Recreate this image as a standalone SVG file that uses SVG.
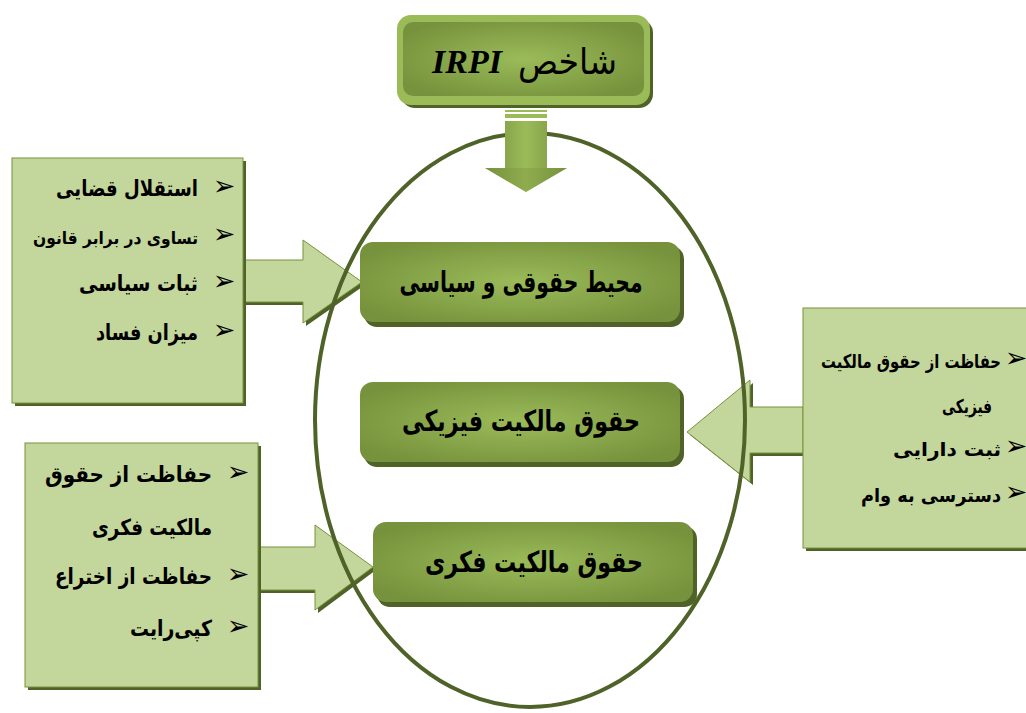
<svg xmlns="http://www.w3.org/2000/svg" width="1026" height="713" viewBox="0 0 1026 713">
<defs>
<radialGradient id="gBox" cx="50%" cy="50%" r="60%">
<stop offset="0" stop-color="#9bbb59"/>
<stop offset="1" stop-color="#76923c"/>
</radialGradient>
<linearGradient id="gArrow" x1="0" y1="0" x2="1" y2="0">
<stop offset="0" stop-color="#76923c"/>
<stop offset="0.5" stop-color="#9bbb59"/>
<stop offset="1" stop-color="#76923c"/>
</linearGradient>
</defs>
<style>
.lbox{fill:#c3d69b;stroke:#77933c;stroke-width:1}
.shadow{fill:#4f6228}
.gbox{fill:url(#gBox)}
.ar{font-family:"DejaVu Sans",sans-serif;font-weight:bold;fill:#000}
.t{font-size:22px;text-anchor:end}
.r{font-size:19px}
.c{font-size:29px;text-anchor:middle}
.b{font-family:"DejaVu Sans",sans-serif;font-size:27px;fill:#000;text-anchor:middle}
</style>
<rect width="1026" height="713" fill="#fff"/>

<g id="connectors">
<path class="shadow" d="M246,263 H306 V243 L365,285 L306,326 V305 H246 Z"/>
<path class="lbox" d="M243,260 H303 V240 L362,282 L303,323 V302 H243 Z"/>
<path class="shadow" d="M261,550 H318 V528 L376,570 L318,613 V593 H261 Z"/>
<path class="lbox" d="M258,547 H315 V525 L373,567 L315,610 V590 H258 Z"/>
<path class="shadow" d="M806,410 H753 V383 L690,435 L753,485 V456 H806 Z"/>
<path class="lbox" d="M803,407 H750 V380 L687,432 L750,482 V453 H803 Z"/>
</g>

<ellipse cx="530" cy="420" rx="215" ry="287" fill="none" stroke="#4f6228" stroke-width="4"/>

<g id="arrow-down">
<rect x="505" y="110" width="42" height="2" fill="#9bbb59"/>
<rect x="505" y="114" width="42" height="4" fill="#9bbb59"/>
<path d="M505,121 H547 V168 H567 L526,192 L485,168 H505 Z" fill="url(#gArrow)"/>
<path d="M485,168 H567 L526,192 Z" fill="#77933c" opacity="0.35"/>
</g>

<g id="node-irpi">
<rect x="401" y="19" width="252" height="89" rx="14" class="shadow"/>
<rect x="397" y="15" width="253" height="90" rx="14" fill="#9bbb59"/>
<rect x="403" y="22" width="241" height="74" rx="10" class="gbox"/>
<text x="467" y="73" font-family="Liberation Serif,serif" font-weight="bold" font-style="italic" font-size="34" text-anchor="middle">IRPI</text>
<text x="617" y="74" font-family="DejaVu Sans,sans-serif" font-size="36" text-anchor="end" textLength="99" lengthAdjust="spacingAndGlyphs">شاخص</text>
</g>

<g id="node-left-top">
<rect x="15" y="161" width="231" height="245" class="shadow"/>
<rect x="12" y="158" width="231" height="245" class="lbox"/>
<text class="b" x="224" y="195">➢</text>
<text class="ar t" x="198" y="196" textLength="142" lengthAdjust="spacingAndGlyphs">استقلال قضایی</text>
<text class="b" x="224" y="243">➢</text>
<text class="ar t" x="198" y="244" style="font-size:17px" textLength="165" lengthAdjust="spacingAndGlyphs">تساوی در برابر قانون</text>
<text class="b" x="224" y="290">➢</text>
<text class="ar t" x="198" y="291" textLength="119" lengthAdjust="spacingAndGlyphs">ثبات سیاسی</text>
<text class="b" x="224" y="339">➢</text>
<text class="ar t" x="198" y="340" textLength="102" lengthAdjust="spacingAndGlyphs">میزان فساد</text>
</g>

<g id="node-left-bottom">
<rect x="28" y="446" width="233" height="244" class="shadow"/>
<rect x="25" y="443" width="233" height="244" class="lbox"/>
<text class="b" x="238" y="481">➢</text>
<text class="ar t" x="212" y="482" textLength="167" lengthAdjust="spacingAndGlyphs">حفاظت  از  حقوق</text>
<text class="ar t" x="212" y="535" textLength="120" lengthAdjust="spacingAndGlyphs">مالکیت فکری</text>
<text class="b" x="238" y="583">➢</text>
<text class="ar t" x="212" y="584" textLength="157" lengthAdjust="spacingAndGlyphs">حفاظت از اختراع</text>
<text class="b" x="238" y="635">➢</text>
<text class="ar t" x="212" y="636" textLength="82" lengthAdjust="spacingAndGlyphs">کپی‌رایت</text>
</g>

<g id="node-right">
<rect x="806" y="311" width="230" height="240" class="shadow"/>
<rect x="803" y="308" width="230" height="240" class="lbox"/>
<text class="b" x="1016" y="367">➢</text>
<text class="ar t r" x="1001" y="368" textLength="180" lengthAdjust="spacingAndGlyphs">حفاظت از حقوق مالکیت</text>
<text class="ar t r" x="992" y="413" textLength="50" lengthAdjust="spacingAndGlyphs">فیزیکی</text>
<text class="b" x="1016" y="455">➢</text>
<text class="ar t r" x="1001" y="456" textLength="108" lengthAdjust="spacingAndGlyphs">ثبت دارایی</text>
<text class="b" x="1016" y="501">➢</text>
<text class="ar t r" x="1001" y="502" textLength="140" lengthAdjust="spacingAndGlyphs">دسترسی به وام</text>
</g>

<g id="node-legal">
<rect x="364" y="246" width="320" height="81" rx="13" class="shadow"/>
<rect x="360" y="242" width="320" height="80" rx="13" class="gbox"/>
<text class="ar c" x="521" y="292" textLength="243" lengthAdjust="spacingAndGlyphs">محیط حقوقی و سیاسی</text>
</g>
<g id="node-physical">
<rect x="364" y="386" width="320" height="81" rx="13" class="shadow"/>
<rect x="360" y="382" width="320" height="80" rx="13" class="gbox"/>
<text class="ar c" x="521" y="431" textLength="238" lengthAdjust="spacingAndGlyphs">حقوق مالکیت فیزیکی</text>
</g>
<g id="node-intellectual">
<rect x="377" y="526" width="320" height="81" rx="13" class="shadow"/>
<rect x="373" y="522" width="320" height="80" rx="13" class="gbox"/>
<text class="ar c" x="534" y="572" textLength="218" lengthAdjust="spacingAndGlyphs">حقوق مالکیت فکری</text>
</g>
</svg>
